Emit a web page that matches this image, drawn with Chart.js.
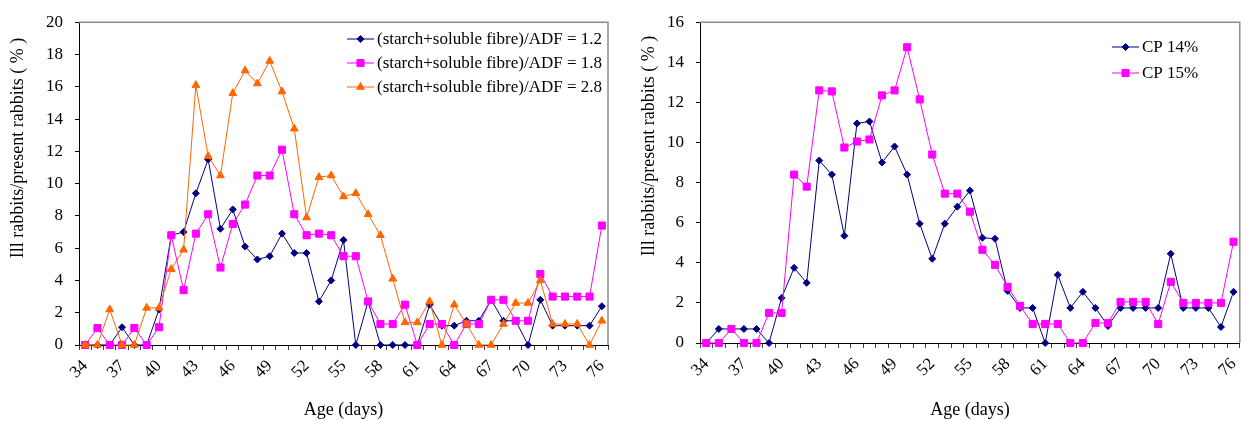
<!DOCTYPE html>
<html>
<head>
<meta charset="utf-8">
<script src="https://cdn.jsdelivr.net/npm/chart.js@4.4.0/dist/chart.umd.min.js"></script>
<style>
  body { margin: 0; background: #fff; }
  .painel { position: absolute; top: 0; }
</style>
</head>
<body>
<div class="painel" style="left:0"><canvas id="graficoFibra" width="625" height="421"></canvas></div>
<div class="painel" style="left:625px"><canvas id="graficoProteina" width="629" height="421"></canvas></div>
<script>
// idade dos coelhos (dias)
const dias = [34, 35, 36, 37, 38, 39, 40, 41, 42, 43, 44, 45, 46, 47, 48, 49, 50, 51, 52, 53, 54,
  55, 56, 57, 58, 59, 60, 61, 62, 63, 64, 65, 66, 67, 68, 69, 70, 71, 72, 73, 74, 75, 76];

// % de coelhos doentes, (amido+fibra solúvel)/FDA
const fibra12 = [0, 0, 0, 1.1, 0, 0, 2.2, 6.8, 7.0, 9.4,
  11.5, 7.2, 8.4, 6.1, 5.3, 5.5, 6.9, 5.7, 5.7, 2.7,
  4.0, 6.5, 0, 2.7, 0, 0, 0, 0, 2.5, 1.2,
  1.2, 1.5, 1.5, 2.8, 1.5, 1.5, 0, 2.8, 1.2, 1.2,
  1.2, 1.2, 2.4];
const fibra18 = [0, 1.05, 0, 0, 1.05, 0, 1.1, 6.8, 3.4, 6.9,
  8.1, 4.8, 7.5, 8.7, 10.5, 10.5, 12.1, 8.1, 6.8, 6.9,
  6.8, 5.5, 5.5, 2.7, 1.3, 1.3, 2.5, 0, 1.3, 1.3,
  0, 1.3, 1.3, 2.8, 2.8, 1.5, 1.5, 4.4, 3.0, 3.0,
  3.0, 3.0, 7.4];
const fibra28 = [0, 0, 2.2, 0, 0, 2.3, 2.3, 4.7, 5.9, 16.1,
  11.7, 10.5, 15.6, 17.0, 16.2, 17.6, 15.7, 13.4, 7.9, 10.4,
  10.5, 9.2, 9.4, 8.1, 6.8, 4.1, 1.4, 1.4, 2.7, 0,
  2.5, 1.3, 0, 0, 1.3, 2.6, 2.6, 4.0, 1.3, 1.3,
  1.3, 0, 1.5];

// % de coelhos doentes, proteína bruta
const cp14 = [0, 0.7, 0.7, 0.7, 0.7, 0, 2.25, 3.75, 3.0, 9.1,
  8.4, 5.35, 10.95, 11.05, 9.0, 9.8, 8.4, 5.95, 4.2, 5.95,
  6.8, 7.6, 5.25, 5.2, 2.6, 1.75, 1.75, 0, 3.4, 1.75,
  2.55, 1.75, 0.85, 1.75, 1.75, 1.75, 1.75, 4.45, 1.75, 1.75,
  1.75, 0.8, 2.55];
const cp15 = [0, 0, 0.7, 0, 0, 1.5, 1.5, 8.4, 7.8, 12.6,
  12.55, 9.75, 10.05, 10.15, 12.35, 12.6, 14.75, 12.15, 9.4, 7.45,
  7.45, 6.55, 4.65, 3.9, 2.8, 1.85, 0.95, 0.95, 0.95, 0,
  0, 1.0, 1.0, 2.05, 2.05, 2.05, 0.95, 3.05, 2.0, 2.0,
  2.0, 2.0, 5.05];

const tituloY = 'Ill rabbits/present rabbits ( % )';
const tituloX = 'Age (days)';

const fonte = '"Liberation Serif", "Times New Roman", serif';
const AZUL = '#000080', ROSA = '#ff00ff', LARANJA = '#ff6600';

function serie(label, dados, cor, estilo, raio, ordem) {
  return {
    label: label,
    data: dados,
    borderColor: cor,
    backgroundColor: cor,
    borderWidth: 1,
    pointStyle: estilo,
    pointRadius: raio,
    pointBackgroundColor: cor,
    pointBorderColor: cor,
    pointBorderWidth: 1,
    tension: 0,
    clip: false,
    order: ordem
  };
}

// marcador igual ao do Chart.js, para a legenda
function desenhaMarcador(ctx, estilo, r, x, y, cor) {
  ctx.fillStyle = cor;
  ctx.strokeStyle = cor;
  ctx.beginPath();
  if (estilo === 'rect') {
    const s = Math.SQRT1_2 * r;
    ctx.rect(x - s, y - s, 2 * s, 2 * s);
  } else if (estilo === 'rectRot') {
    ctx.moveTo(x - r, y);
    ctx.lineTo(x, y - r);
    ctx.lineTo(x + r, y);
    ctx.lineTo(x, y + r);
    ctx.closePath();
  } else {
    let ang = 0;
    ctx.moveTo(x + Math.sin(ang) * r, y - Math.cos(ang) * r);
    ang += 2 * Math.PI / 3;
    ctx.lineTo(x + Math.sin(ang) * r, y - Math.cos(ang) * r);
    ang += 2 * Math.PI / 3;
    ctx.lineTo(x + Math.sin(ang) * r, y - Math.cos(ang) * r);
    ctx.closePath();
  }
  ctx.fill();
  ctx.stroke();
}

const legendaInterna = {
  id: 'legendaInterna',
  afterDraw(chart, args, opts) {
    const ctx = chart.ctx;
    ctx.save();
    ctx.font = '17px ' + fonte;
    ctx.textBaseline = 'middle';
    ctx.lineWidth = 1;
    chart.data.datasets.forEach((ds, i) => {
      const y = opts.y + i * opts.linha;
      ctx.strokeStyle = ds.borderColor;
      ctx.beginPath();
      ctx.moveTo(opts.x, y);
      ctx.lineTo(opts.x + 27, y);
      ctx.stroke();
      desenhaMarcador(ctx, ds.pointStyle, ds.pointRadius, opts.x + 13.5, y, ds.borderColor);
      ctx.fillStyle = '#000';
      ctx.fillText(ds.label, opts.x + 30, y + 1);
    });
    ctx.restore();
  }
};

const tituloEixoY = {
  id: 'tituloEixoY',
  afterDraw(chart, args, opts) {
    const ctx = chart.ctx;
    ctx.save();
    ctx.translate(opts.x, opts.y);
    ctx.rotate(-Math.PI / 2);
    ctx.font = '18px ' + fonte;
    ctx.textAlign = 'center';
    ctx.textBaseline = 'middle';
    ctx.fillStyle = '#000';
    ctx.fillText(opts.texto, 0, 0);
    ctx.restore();
  }
};

// borda cinza em cima e à direita da área do gráfico
const moldura = {
  id: 'moldura',
  beforeDatasetsDraw(chart) {
    const { ctx, chartArea: a } = chart;
    ctx.save();
    ctx.strokeStyle = '#8c8c8c';
    ctx.lineWidth = 1.5;
    ctx.beginPath();
    ctx.moveTo(a.left, a.top);
    ctx.lineTo(a.right, a.top);
    ctx.lineTo(a.right, a.bottom);
    ctx.stroke();
    ctx.restore();
  }
};

function criaGrafico(id, datasets, yMax, medidas, legenda, titulo) {
  return new Chart(document.getElementById(id), {
    type: 'line',
    data: { labels: dias, datasets: datasets },
    plugins: [moldura, legendaInterna, tituloEixoY],
    options: {
      responsive: false,
      animation: false,
      devicePixelRatio: 1,
      events: [],
      layout: { padding: { left: 0, right: medidas.direita, top: medidas.topo, bottom: 0 } },
      plugins: {
        legend: { display: false },
        tooltip: { enabled: false },
        legendaInterna: legenda,
        tituloEixoY: titulo
      },
      scales: {
        x: {
          type: 'category',
          offset: true,
          afterFit: (s) => { s.height = medidas.alturaX; },
          grid: { offset: true, drawOnChartArea: false, tickLength: 5, color: '#404040' },
          border: { color: '#000', width: 1 },
          ticks: {
            autoSkip: false,
            minRotation: 45,
            maxRotation: 45,
            padding: 6,
            color: '#000',
            font: { family: fonte, size: 17 },
            callback: function (valor, indice) {
              return indice % 3 === 0 ? this.getLabelForValue(valor) : '';
            }
          },
          title: {
            display: true,
            text: tituloX,
            color: '#000',
            font: { family: fonte, size: 18 },
            padding: { top: 0, bottom: 0 }
          }
        },
        y: {
          min: 0,
          max: yMax,
          afterFit: (s) => { s.width = medidas.larguraY; },
          grid: { drawOnChartArea: false, tickLength: 4, color: '#000' },
          border: { color: '#000', width: 1 },
          ticks: {
            stepSize: 2,
            padding: 12,
            color: '#000',
            font: { family: fonte, size: 17 }
          }
        }
      }
    }
  });
}

criaGrafico('graficoFibra', [
  serie('(starch+soluble fibre)/ADF = 1.2', fibra12, AZUL, 'rectRot', 3.5, 2),
  serie('(starch+soluble fibre)/ADF = 1.8', fibra18, ROSA, 'rect', 5, 1),
  serie('(starch+soluble fibre)/ADF = 2.8', fibra28, LARANJA, 'triangle', 4.5, 0)
], 20,
  { direita: 17, topo: 15, alturaX: 76, larguraY: 79 },
  { x: 347, y: 39, linha: 24 },
  { x: 18, y: 148, texto: tituloY });

criaGrafico('graficoProteina', [
  serie('CP 14%', cp14, AZUL, 'rectRot', 3.5, 1),
  serie('CP 15%', cp15, ROSA, 'rect', 5, 0)
], 16,
  { direita: 6, topo: 17, alturaX: 78, larguraY: 75 },
  { x: 487, y: 47, linha: 26 },
  { x: 24, y: 146, texto: tituloY });
</script>
</body>
</html>
